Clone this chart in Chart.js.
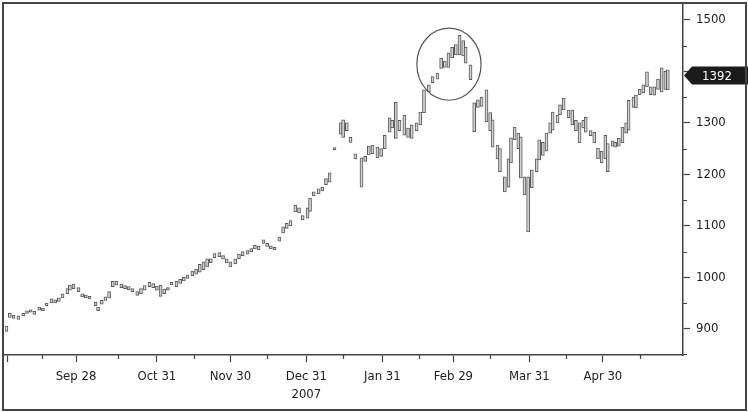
<!DOCTYPE html>
<html>
<head>
<meta charset="utf-8">
<script src="https://cdn.jsdelivr.net/npm/chart.js@4.4.1/dist/chart.umd.min.js"></script>
<style>
  html, body { margin: 0; padding: 0; background: #fff; }
  #wrap { width: 748px; height: 412px; }
</style>
</head>
<body>
<div id="wrap"><canvas id="grafico" width="748" height="412"></canvas></div>
<script>
// dias desde el 31 de agosto (dia 0), con el maximo y minimo de cada barra
const days = [-0.4, 1, 2.5, 4.5, 6.5, 8, 9.5, 11, 13, 14.5, 16, 18, 19.5, 21, 22.5, 24.5, 25.5, 27, 29, 30.5,
  32, 33.5, 36, 37, 38.5, 40, 41.5, 43, 44.5, 46.5, 48, 49.5, 51, 53, 54.5, 56, 58, 59.5, 61, 62.5,
  64, 65.5, 67, 69, 70.5, 72, 73.5, 75.5, 77, 78.5, 80, 81.5, 83, 84.5, 86.5, 88, 89.5, 91, 93, 94.5,
  96, 98, 99.5, 101, 102.5, 104.5, 106, 107.5, 109, 111, 112.5, 114, 115.5, 117.5, 119, 120.5, 122.5, 123.5, 125, 127,
  128.5, 130, 131.5, 133.5, 136, 137, 138.5, 140, 142, 144.5, 146, 147.5, 149, 151, 152.5, 154, 156, 157, 158.5, 160,
  162, 163.5, 165, 167, 168.5, 170, 172, 173.5, 175.5, 177, 178.5, 180, 181.5, 183, 184.5, 186, 187, 189, 190.5, 192,
  193.5, 195.5, 197, 198, 200, 201, 203, 204.5, 205.5, 207, 208.5, 209.5, 211, 212.5, 214, 216, 217, 218.5, 220, 221.5,
  222.5, 224.5, 225.5, 227, 229, 230.5, 232, 233.5, 235, 236, 238, 239.5, 241, 242.5, 244, 245, 247, 248, 249.5, 251,
  252.5, 253.5, 255.5, 256.5, 258, 259.5, 261, 262.5, 264, 265.5, 267, 268.5, 269.5];
const highs = [905, 930, 926, 925, 930, 935, 937, 934, 942, 940, 950, 958, 956, 960, 968, 978, 985, 987, 980, 968,
  966, 963, 952, 942, 955, 962, 972, 992, 992, 987, 984, 982, 978, 972, 978, 984, 990, 988, 983, 985,
  977, 980, 990, 992, 996, 1000, 1005, 1012, 1016, 1025, 1030, 1036, 1036, 1046, 1048, 1042, 1036, 1030, 1036, 1045,
  1050, 1052, 1056, 1062, 1060, 1073, 1066, 1061, 1058, 1078, 1098, 1105, 1110, 1140, 1135, 1120, 1135, 1154, 1166, 1172,
  1175, 1192, 1203, 1252, 1300, 1306, 1300, 1272, 1240, 1232, 1235, 1255, 1257, 1253, 1250, 1276, 1310, 1305, 1340, 1305,
  1315, 1290, 1296, 1300, 1321, 1364, 1374, 1390, 1397, 1426, 1420, 1436, 1447, 1452, 1470, 1460, 1447, 1413, 1339, 1345,
  1350, 1364, 1320, 1306, 1257, 1250, 1195, 1230, 1271, 1292, 1280, 1273, 1195, 1195, 1209, 1230, 1267, 1262, 1280, 1300,
  1321, 1315, 1335, 1348, 1325, 1325, 1305, 1300, 1305, 1311, 1285, 1282, 1251, 1245, 1276, 1260, 1265, 1262, 1270, 1292,
  1300, 1344, 1350, 1354, 1365, 1374, 1399, 1370, 1370, 1385, 1407, 1400, 1403];
const lows = [895, 922, 920, 918, 925, 930, 932, 928, 936, 935, 945, 950, 950, 953, 960, 968, 975, 978, 972, 962,
  960, 958, 945, 935, 948, 955, 960, 982, 985, 980, 978, 976, 972, 965, 968, 975, 982, 980, 975, 963,
  968, 975, 985, 982, 988, 993, 998, 1003, 1006, 1010, 1015, 1020, 1028, 1038, 1040, 1035, 1028, 1020, 1026, 1036,
  1042, 1045, 1050, 1055, 1053, 1066, 1060, 1055, 1053, 1070, 1086, 1095, 1100, 1127, 1125, 1112, 1115, 1128, 1158, 1162,
  1168, 1180, 1185, 1248, 1278, 1272, 1285, 1262, 1230, 1175, 1225, 1238, 1240, 1232, 1235, 1250, 1282, 1290, 1270, 1285,
  1276, 1272, 1270, 1285, 1296, 1320, 1360, 1378, 1385, 1406, 1408, 1408, 1426, 1432, 1432, 1430, 1416, 1384, 1283, 1330,
  1332, 1302, 1285, 1253, 1230, 1205, 1166, 1175, 1222, 1267, 1250, 1193, 1160, 1088, 1174, 1205, 1228, 1237, 1245, 1280,
  1286, 1300, 1316, 1325, 1310, 1296, 1285, 1261, 1290, 1282, 1275, 1261, 1230, 1222, 1230, 1205, 1255, 1253, 1255, 1261,
  1280, 1286, 1330, 1329, 1355, 1358, 1370, 1355, 1354, 1365, 1360, 1365, 1364];
const lastPrice = 1392;

// marcas del eje x (fin de mes con etiqueta, mitad de mes sin etiqueta)
const monthEndDays = [0, 28, 61, 91, 122, 153, 182, 213, 243];
const monthEndLabels = ['', 'Sep 28', 'Oct 31', 'Nov 30', ['Dec 31', '2007'], 'Jan 31', 'Feb 29', 'Mar 31', 'Apr 30'];
const midMonthDays = [14, 45, 76, 106, 137, 168, 197, 228, 258];

// eje de precios
const priceTicks = [900, 1000, 1100, 1200, 1300, 1400, 1500];
const priceLabels = [900, 1000, 1100, 1200, 1300, 1500];
const priceMinor = [850, 950, 1050, 1150, 1250, 1350, 1450];

// zona marcada con el circulo: [dia, precio, radio en dias, radio en precio]
const highlight = [180.2, 1414, 13.1, 70];

const FONT = "'Liberation Sans Narrow', 'DejaVu Sans Condensed', 'Arial Narrow', sans-serif";
const INK = '#444';

const bars = days.map((d, i) => ({ x: d, y: [lows[i], highs[i]] }));

// dibujos extra: marco, marcas cortas, circulo y etiqueta del ultimo precio
const extras = {
  id: 'extras',
  beforeDraw(chart) {
    const ctx = chart.ctx;
    ctx.save();
    ctx.fillStyle = '#fff';
    ctx.fillRect(0, 0, chart.width, chart.height);
    ctx.restore();
  },
  afterDraw(chart) {
    const ctx = chart.ctx;
    const a = chart.chartArea;
    const xs = chart.scales.x, ys = chart.scales.y;
    ctx.save();

    // marcas menores
    ctx.strokeStyle = INK;
    ctx.lineWidth = 1.2;
    ctx.beginPath();
    midMonthDays.forEach(d => {
      const px = Math.round(xs.getPixelForValue(d)) + 0.5;
      ctx.moveTo(px, a.bottom);
      ctx.lineTo(px, a.bottom + 4);
    });
    priceMinor.forEach(v => {
      const py = Math.round(ys.getPixelForValue(v)) + 0.5;
      ctx.moveTo(a.right, py);
      ctx.lineTo(a.right + 4, py);
    });
    ctx.stroke();

    // circulo
    const cx = xs.getPixelForValue(highlight[0]);
    const cy = ys.getPixelForValue(highlight[1]);
    const rx = Math.abs(xs.getPixelForValue(highlight[0] + highlight[2]) - cx);
    const ry = Math.abs(ys.getPixelForValue(highlight[1] + highlight[3]) - cy);
    ctx.strokeStyle = '#555';
    ctx.lineWidth = 1.2;
    ctx.beginPath();
    ctx.ellipse(cx, cy, rx, ry, 0, 0, Math.PI * 2);
    ctx.stroke();

    // etiqueta negra del ultimo precio
    const ty = ys.getPixelForValue(lastPrice);
    const tx = a.right + 1;
    ctx.fillStyle = '#1b1b1b';
    ctx.beginPath();
    ctx.moveTo(tx, ty);
    ctx.lineTo(tx + 8, ty - 9);
    ctx.lineTo(chart.width, ty - 9);
    ctx.lineTo(chart.width, ty + 9);
    ctx.lineTo(tx + 8, ty + 9);
    ctx.closePath();
    ctx.fill();
    ctx.fillStyle = '#fff';
    ctx.font = '13px ' + FONT;
    ctx.textAlign = 'center';
    ctx.textBaseline = 'middle';
    ctx.fillText(String(lastPrice), tx + 33, ty + 1);

    // marco exterior
    ctx.strokeStyle = INK;
    ctx.lineWidth = 2;
    ctx.strokeRect(3, 3, chart.width - 5, chart.height - 5);
    ctx.restore();
  }
};

const grafico = new Chart(document.getElementById('grafico').getContext('2d'), {
  type: 'bar',
  data: {
    datasets: [{
      data: bars,
      barThickness: 3,
      backgroundColor: '#d2d2d2',
      borderColor: '#5a5a5a',
      borderWidth: 1,
      borderSkipped: false
    }]
  },
  options: {
    responsive: false,
    animation: false,
    events: [],
    layout: { padding: { left: 5, top: 4, right: 0, bottom: 0 } },
    plugins: { legend: { display: false }, tooltip: { enabled: false } },
    scales: {
      x: {
        type: 'linear',
        offset: false,
        min: -0.98,
        max: 275.7,
        afterBuildTicks: s => { s.ticks = monthEndDays.map(v => ({ value: v })); },
        afterFit: s => { s.height = 57; s.paddingLeft = 0; s.paddingRight = 0; },
        grid: { offset: false, drawOnChartArea: false, tickLength: 7, tickColor: INK, tickWidth: 1.2 },
        border: { display: true, color: INK, width: 1.5 },
        ticks: {
          autoSkip: false,
          maxRotation: 0,
          padding: 6,
          color: '#222',
          font: { family: FONT, size: 13, lineHeight: 1.35 },
          callback: v => {
            const i = monthEndDays.indexOf(v);
            return i >= 0 ? monthEndLabels[i] : '';
          }
        }
      },
      y: {
        position: 'right',
        min: 849,
        max: 1531,
        afterBuildTicks: s => { s.ticks = priceTicks.map(v => ({ value: v })); },
        afterFit: s => { s.width = 65; s.paddingTop = 0; s.paddingBottom = 0; },
        grid: { drawOnChartArea: false, tickLength: 7, tickColor: INK, tickWidth: 1.2 },
        border: { display: true, color: INK, width: 1.5 },
        ticks: {
          padding: 6,
          color: '#222',
          font: { family: FONT, size: 13 },
          callback: v => priceLabels.includes(v) ? String(v) : ''
        }
      }
    }
  },
  plugins: [extras]
});
</script>
</body>
</html>
